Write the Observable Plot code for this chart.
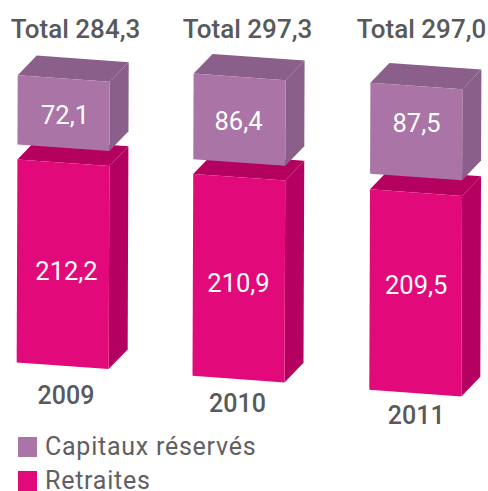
<!DOCTYPE html>
<html><head><meta charset="utf-8">
<script src="https://cdn.jsdelivr.net/npm/d3@7"></script>
<script src="https://cdn.jsdelivr.net/npm/@observablehq/plot@0.6"></script>
<style>
html,body{margin:0;padding:0;background:#fff;overflow:hidden}
svg{display:block}
#legend{padding-top:7px;font-family:Roboto,sans-serif;font-size:25px;line-height:20px;color:#5f6062;letter-spacing:.75px}
.row{display:flex;align-items:center;height:20px;margin-bottom:14px}
.row:last-child{margin-bottom:0}
.row .lbl{display:block;height:20px;line-height:20px}
.sw{width:19px;height:19.5px;margin-left:18px;margin-right:8px;flex:none}
</style></head><body>
<div id="chart"></div>
<div id="legend"></div>
<script>
const years = ["2009", "2010", "2011"];
const totals = [284.3, 297.3, 297.0];
const retraites = [212.2, 210.9, 209.5];
const capitaux = [72.1, 86.4, 87.5];
// Heights of the purple boxes as they are actually drawn in the picture
// (the reference does not draw them strictly in proportion to their labels).
const capitauxDrawn = [72.3, 89.5, 95.1];
const series = ["Capitaux réservés", "Retraites"];

// Layout
const W = 488, H = 430, K = 0.957;
const C = {pinkFront:"#e2097a", pinkDark:"#b4005f", purpleFront:"#aa74a6", purpleDark:"#8a5f8a", ink:"#58595b"};
const barLeft = [17.2, 193.1, 369.9];
const baselinePx = [362, 375.3, 389.3];
const gapPx = [15, 14.7, 15.6];
const barW = 92, depthX = 19, depthY = 19.7, slant = 6.6, lean = 1 / 290;
const u = px => (H - px) / K;           // pixel row -> y units
const totalX = [75, 247, 421], totalY = [29, 29, 29];
const yearX = [65.5, 237, 415.7], yearY = [395, 403.5, 415];
const capLabelX = [64.5, 238, 416], capLabelY = [115.7, 121, 123.5];
const retLabelX = [66, 238, 415.7], retLabelY = [271, 283, 285.7];

const frWithComma = v => v.toFixed(1).replace(".", ",");

const polys = [];
function face(id, color, pts) {
  pts.forEach(([x, y]) => polys.push({id, color, x, y}));
}
function box(name, i, bottom, value, front, dark) {
  const L = barLeft[i], top = bottom + value;       // y units
  const sl = slant / K, dy = depthY / K;
  const lx = (v) => L - (u(baselinePx[i]) + retraites[i] + gapPx[i] / K + capitauxDrawn[i] - v) * lean;
  const fl = [lx(bottom), bottom], ft = [lx(top), top];
  const fr = [lx(bottom) + barW, bottom - sl], gt = [lx(top) + barW, top - sl];
  face(name + i + "top", dark, [ft, gt, [gt[0] + depthX, gt[1] + dy], [ft[0] + depthX, ft[1] + dy]]);
  face(name + i + "side", dark, [gt, fr, [fr[0] + depthX, fr[1] + dy], [gt[0] + depthX, gt[1] + dy]]);
  face(name + i + "front", front, [fl, fr, gt, ft]);
}
years.forEach((_, i) => {
  const base = u(baselinePx[i]);
  box("ret", i, base, retraites[i], C.pinkFront, C.pinkDark);
  box("cap", i, base + retraites[i] + gapPx[i] / K, capitauxDrawn[i], C.purpleFront, C.purpleDark);
});

const text = (vals, fmt, xs, ys, o) => Plot.text(vals.map((v, i) => ({label: fmt(v), x: xs[i], y: u(ys[i])})),
  {x: "x", y: "y", text: "label", textAnchor: "middle", lineAnchor: "middle", fontFamily: "Roboto, sans-serif", ...o});

const plot = Plot.plot({
  width: W, height: H, margin: 0,
  x: {domain: [0, W], range: [0, W], axis: null},
  y: {domain: [0, H / K], range: [H, 0], axis: null},
  style: {background: "transparent"},
  marks: [
    Plot.line(polys, {x: "x", y: "y", z: "id", fill: "color", stroke: "none", curve: "linear"}),
    text(totals, v => "Total " + frWithComma(v), totalX, totalY, {fontSize: 26, fontWeight: 500, fill: C.ink}),
    text(years, v => v, yearX, yearY, {fontSize: 25, fontWeight: 500, fill: C.ink}),
    text(capitaux, frWithComma, capLabelX, capLabelY, {fontSize: 25.5, fontWeight: 400, fill: "#fff"}),
    text(retraites, frWithComma, retLabelX, retLabelY, {fontSize: 25.5, fontWeight: 400, fill: "#fff"})
  ]
});
document.getElementById("chart").append(plot);

const legend = document.getElementById("legend");
series.forEach((s, i) => {
  const r = document.createElement("div"); r.className = "row";
  const sw = document.createElement("span"); sw.className = "sw";
  sw.style.background = i === 0 ? C.purpleFront : C.pinkFront;
  const t = document.createElement("div"); t.className = "lbl"; t.textContent = s;
  r.append(sw, t); legend.append(r);
});
</script>
</body></html>
